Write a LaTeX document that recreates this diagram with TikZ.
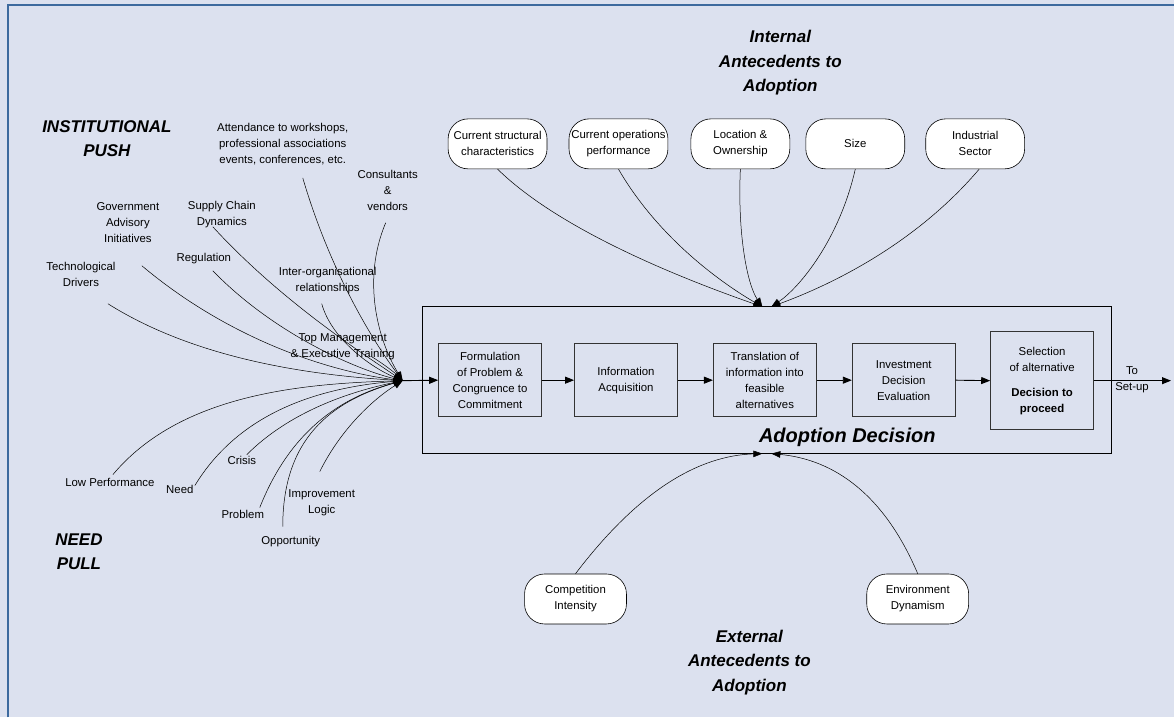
\documentclass[tikz,border=0pt]{standalone}
\usepackage{fontspec}
\setmainfont{Liberation Sans}
\usetikzlibrary{arrows.meta}
\definecolor{bgpanel}{HTML}{DCE1EF}
\definecolor{frameblue}{HTML}{3D6A9E}
\definecolor{boxline}{HTML}{333333}
\begin{document}
\begin{tikzpicture}[x=1pt,y=-1pt,
  txt/.style={font=\fontsize{11.4}{16}\selectfont, align=center, inner sep=0pt},
  headline/.style={font=\fontsize{17}{24.5}\selectfont\bfseries\itshape, align=center, inner sep=0pt},
  stepbox/.style={draw=boxline, line width=0.9pt, fill=none, txt, minimum width=103pt, minimum height=73pt},
  capsule/.style={draw=black, line width=0.6pt, fill=white, rounded corners=20pt, txt, minimum width=99pt, minimum height=50pt},
  feed/.style={line width=0.5pt, -{Triangle[length=9pt,width=6.5pt]}},
  flow/.style={line width=0.9pt, -{Triangle[length=9pt,width=7pt]}}]

% panel and frame
\fill[bgpanel] (0,0) rectangle (1175,718);
\draw[frameblue, line width=2pt] (8,718) -- (8,5) -- (1175,5);

% headings
\node[headline] (inst) at (107,139) {INSTITUTIONAL\\PUSH};
\node[headline] (needpull) at (79,552) {NEED\\PULL};
\node[headline] (internal) at (781,63) {Internal\\Antecedents to\\Adoption};
\node[headline] (external) at (750,663) {External\\Antecedents to\\Adoption};

% adoption decision frame
\node[draw=black, line width=0.9pt, minimum width=689pt, minimum height=147pt, inner sep=0pt] (adopt) at (767.5,380.5) {};
\node[font=\fontsize{20}{24}\selectfont\bfseries\itshape, inner sep=0pt] (adlabel) at (848,438) {Adoption Decision};

% process steps
\node[stepbox] (form) at (490.5,380.5) {Formulation\\of Problem \&\\Congruence to\\Commitment};
\node[stepbox] (info) at (626.5,380.5) {Information\\Acquisition};
\node[stepbox] (trans) at (765.5,380.5) {Translation of\\information into\\feasible\\alternatives};
\node[stepbox] (invest) at (904.5,380.5) {Investment\\Decision\\Evaluation};
\node[stepbox, minimum height=98pt] (select) at (1043,381) {Selection\\of alternative\\[9pt]\textbf{Decision to}\\\textbf{proceed}};

\coordinate (hub) at (403,381);
\coordinate (outend) at (1172,381);
\node[txt] (tosetup) at (1133,380) {To\\Set-up};

\draw[flow] (hub) -- (form.west);
\draw[flow] (form.east) -- (info.west);
\draw[flow] (info.east) -- (trans.west);
\draw[flow] (trans.east) -- (invest.west);
\draw[flow] (invest.east) -- (select.west);
\draw[flow] (select.east) -- (outend);

% internal antecedents
\node[capsule] (struct) at (498,144) {Current structural\\characteristics};
\node[capsule] (oper) at (619,144) {Current operations\\performance};
\node[capsule] (loc) at (741,144) {Location \&\\Ownership};
\node[capsule] (size) at (856,144) {Size};
\node[capsule] (sector) at (976,144) {Industrial\\Sector};

\coordinate (topL) at (763,307);
\coordinate (topR) at (772,307);
\draw[feed] (struct.south) .. controls (560,230) and (680,278) .. (topL);
\draw[feed] (oper.south) .. controls (660,240) and (725,285) .. (topL);
\draw[feed] (loc.south) .. controls (738,235) and (748,285) .. (topL);
\draw[feed] (size.south) .. controls (840,240) and (800,288) .. (topR);
\draw[feed] ([xshift=4pt]sector.south) .. controls (920,240) and (840,282) .. (topR);

% external antecedents
\node[capsule, minimum width=102pt] (comp) at (576,599.5) {Competition\\Intensity};
\node[capsule, minimum width=102pt] (env) at (918.5,599.5) {Environment\\Dynamism};

\coordinate (botL) at (763,454);
\coordinate (botR) at (772,454);
\draw[feed] (comp.north) .. controls (640,490) and (700,456) .. (botL);
\draw[feed] (env.north) .. controls (885,495) and (835,460) .. (botR);

% institutional push drivers
\node[txt] (attend) at (283,144) {Attendance to workshops,\\professional associations\\events, conferences, etc.};
\node[txt] (consult) at (388,191) {Consultants\\\&\\vendors};
\node[txt] (govt) at (128,223) {Government\\Advisory\\Initiatives};
\node[txt] (supply) at (222,215) {Supply Chain\\Dynamics};
\node[txt] (techno) at (81,275) {Technological\\Drivers};
\node[txt] (regul) at (204,259) {Regulation};
\node[txt] (interorg) at (328,281) {Inter-organisational\\relationships};
\node[txt] (topmgmt) at (343,347) {Top Management\\\& Executive Training};

\draw[feed] (108,304) coordinate (technoS) .. controls (200,362) and (320,376) .. (hub);
\draw[feed] (142,266) coordinate (govtS) .. controls (230,340) and (330,372) .. (hub);
\draw[feed] (213,271) coordinate (regulS) .. controls (270,330) and (350,368) .. (hub);
\draw[feed] (213,227) coordinate (supplyS) .. controls (280,300) and (360,352) .. (hub);
\draw[feed] (303,178) coordinate (attendS) .. controls (330,270) and (372,340) .. (hub);
\draw[feed] (386,223) coordinate (consultS) .. controls (362,280) and (378,340) .. (hub);
\draw[feed] (322,304) coordinate (interorgS) .. controls (332,340) and (372,368) .. (hub);
\draw[feed] (372,357) coordinate (topmgmtS) .. controls (385,365) and (395,373) .. (hub);

% need pull drivers
\node[txt] (lowperf) at (110,483) {Low Performance};
\node[txt] (need) at (180,490) {Need};
\node[txt] (crisis) at (242,461) {Crisis};
\node[txt] (problem) at (243,515) {Problem};
\node[txt] (opport) at (291,542) {Opportunity};
\node[txt] (improve) at (322,503) {Improvement\\Logic};

\draw[feed] (113,475) coordinate (lowperfS) .. controls (180,395) and (300,384) .. (hub);
\draw[feed] (195,486) coordinate (needS) .. controls (240,412) and (320,388) .. (hub);
\draw[feed] (247,455) coordinate (crisisS) .. controls (290,412) and (350,392) .. (hub);
\draw[feed] (260,508) coordinate (problemS) .. controls (290,432) and (340,398) .. (hub);
\draw[feed] (283,527) coordinate (opportS) .. controls (283,440) and (330,402) .. (hub);
\draw[feed] (320,472) coordinate (improveS) .. controls (340,432) and (370,402) .. (hub);
\end{tikzpicture}
\end{document}
